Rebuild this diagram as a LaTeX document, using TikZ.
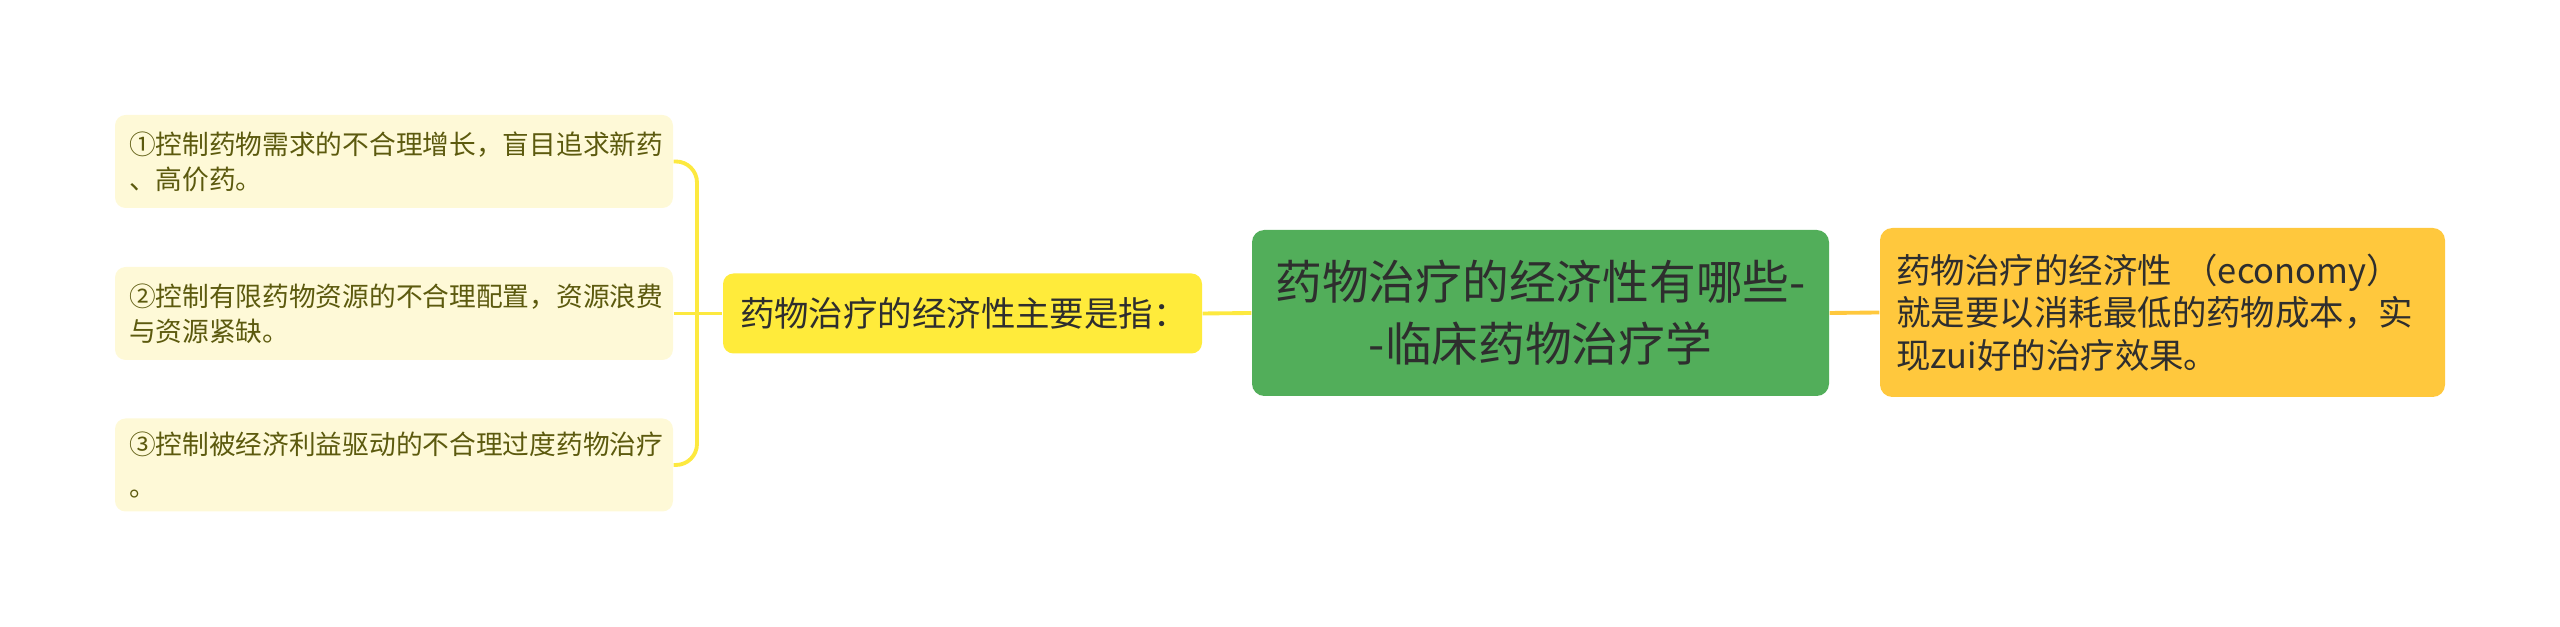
\documentclass[tikz,border=0pt]{standalone}
\usepackage{fontspec}
\setmainfont{Noto Sans CJK SC}
\definecolor{leaffill}{HTML}{FEF9D7}
\definecolor{leaftext}{HTML}{5C5A0E}
\definecolor{bracketline}{HTML}{FDE93F}
\definecolor{subfill}{HTML}{FFEB3B}
\definecolor{rootfill}{HTML}{52AE5A}
\definecolor{notefill}{HTML}{FFC83D}
\definecolor{darktext}{HTML}{2E2E2E}
\begin{document}
\begin{tikzpicture}[
    leaf/.style={rectangle, rounded corners=3pt, fill=leaffill, text=leaftext,
        minimum width=5.58cm, minimum height=0.93cm, text width=5.3cm,
        align=left, inner sep=0pt, font=\fontsize{7.6}{10}\selectfont},
    subnode/.style={rectangle, rounded corners=3pt, fill=subfill, text=darktext,
        minimum width=4.79cm, minimum height=0.8cm, text width=4.45cm,
        align=left, inner sep=0pt, font=\fontsize{9.8}{12}\selectfont},
    rootnode/.style={rectangle, rounded corners=3.5pt, fill=rootfill, text=darktext,
        minimum width=5.77cm, minimum height=1.66cm, align=center, inner sep=0pt,
        font=\fontsize{13.3}{17.6}\selectfont},
    notenode/.style={rectangle, rounded corners=3.5pt, fill=notefill, text=darktext,
        minimum width=5.65cm, minimum height=1.69cm, text width=5.32cm,
        align=left, inner sep=0pt, font=\fontsize{9.8}{12.1}\selectfont},
    brace/.style={draw=bracketline, line width=1.1pt, rounded corners=6pt},
    link/.style={draw=bracketline, line width=1.1pt},
    notelink/.style={draw=notefill, line width=1.1pt}
]
    \useasboundingbox (0, 0) rectangle (25.6, 6.27);

    % Nodes
    \node at (15.405, 3.14) (Root) [rootnode] {药物治疗的经济性有哪些-\\-临床药物治疗学};
    \node at (9.625, 3.135) (Sub) [subnode] {药物治疗的经济性主要是指：};
    \node at (21.625, 3.145) (Note) [notenode] {药物治疗的经济性 （economy）\\就是要以消耗最低的药物成本，实\\现zui好的治疗效果。};

    \node at (3.94, 4.655) (L1) [leaf] {①控制药物需求的不合理增长，盲目追求新药\\、高价药。};
    \node at (3.94, 3.135) (L2) [leaf] {②控制有限药物资源的不合理配置，资源浪费\\与资源紧缺。};
    \node at (3.94, 1.62) (L3) [leaf] {③控制被经济利益驱动的不合理过度药物治疗\\[2pt]。};

    \coordinate (J) at (6.97, 3.135);

    % Connectors
    \draw[brace] (L1.east) -| (J) |- (L3.east);
    \draw[link] (L2.east) -- (Sub.west);
    \draw[link] (Sub.east) -- (Root.west);
    \draw[notelink] (Root.east) -- (Note.west);

\end{tikzpicture}
\end{document}
